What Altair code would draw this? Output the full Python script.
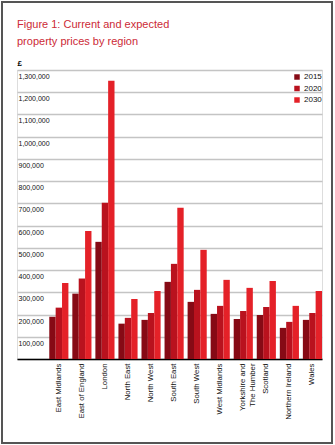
import altair as alt
import pandas as pd

regions = ["East Midlands", "East of England", "London", "North East", "North West",
           "South East", "South West", "West Midlands", "Yorkshire and The Humber",
           "Scotland", "Northern Ireland", "Wales"]
years = ["2015", "2020", "2030"]
v2015 = [190000, 294000, 527000, 159000, 176000, 347000, 257000, 203000, 180000, 198000, 140000, 176000]
v2020 = [231000, 362000, 703000, 185000, 207000, 428000, 311000, 239000, 216000, 234000, 167000, 207000]
v2030 = [342000, 576000, 1252000, 270000, 306000, 680000, 491000, 356000, 320000, 351000, 239000, 306000]
colors = ["#860a15", "#b9121e", "#e42128"]

rows = []
for series, yr in zip([v2015, v2020, v2030], years):
    for r, v in zip(regions, series):
        rows.append({"region": r, "year": yr, "price": v})
df = pd.DataFrame(rows)

FONT = "Liberation Sans"

bars = alt.Chart(df).mark_bar().encode(
    x=alt.X("region:N", sort=regions,
            scale=alt.Scale(paddingInner=0.17, paddingOuter=0.7, align=1),
            axis=alt.Axis(title=None, labelAngle=-90, ticks=False, labelPadding=4,
                          domainColor="#000000", domainWidth=1.5,
                          labelFont=FONT, labelFontSize=7.8, labelColor="#111111",
                          labelExpr="datum.label == 'Yorkshire and The Humber' ? ['Yorkshire and', 'The Humber'] : datum.label")),
    xOffset=alt.XOffset("year:N", sort=years),
    y=alt.Y("price:Q", scale=alt.Scale(domain=[0, 1300000], nice=False),
            axis=alt.Axis(title="£", titleAngle=0, titleAlign="left", titleBaseline="bottom",
                          titleX=0, titleY=-3, titleFont=FONT, titleFontSize=8,
                          titleFontWeight="bold", titleColor="#000000",
                          values=list(range(0, 1300001, 100000)),
                          labelExpr="datum.value == 0 ? '' : format(datum.value, ',')",
                          ticks=False, domain=False, labelAlign="left", labelBaseline="top",
                          labelPadding=-1, labelOffset=2.5, labelFont=FONT, labelFontSize=7,
                          labelColor="#111111",
                          grid=True, gridColor="#c4c4c4", gridWidth=1.5)),
    color=alt.Color("year:N", sort=years,
                    scale=alt.Scale(domain=years, range=colors),
                    legend=alt.Legend(title=None, orient="none", legendX=276, legendY=3,
                                      symbolType="square", symbolSize=30, symbolStrokeWidth=0,
                                      labelFont=FONT, labelFontSize=8, labelColor="#111111",
                                      rowPadding=3.5, labelOffset=3)),
)

frame = alt.Chart(df).mark_rect(fill=None, stroke="#555555", strokeWidth=1.5, clip=False).encode(
    x=alt.value(-15), x2=alt.value(315), y=alt.value(-68), y2=alt.value(373)
)

chart = alt.layer(bars, frame).properties(
    width=305, height=289,
    padding={"left": 17, "top": 70, "right": 13, "bottom": 86},
    autosize=alt.AutoSizeParams(type="none"),
    title=alt.Title(["Figure 1: Current and expected", "property prices by region"],
                    anchor="start", frame="group", offset=-46, color="#cc2a36",
                    font=FONT, fontSize=11, fontWeight="normal", lineHeight=17),
).configure_view(stroke=None).configure(background="white")

chart.save("out.html", embed_options={"renderer": "svg", "actions": False})
